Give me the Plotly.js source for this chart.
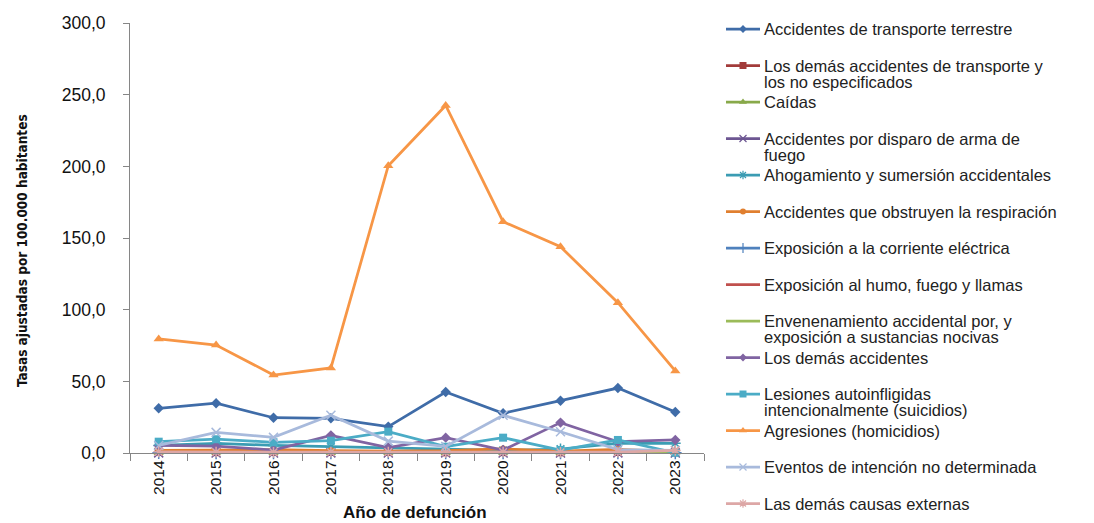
<!DOCTYPE html>
<html>
<head>
<meta charset="utf-8">
<script src="https://cdn.plot.ly/plotly-3.0.1.min.js"></script>
<style>html,body{margin:0;padding:0;background:#fff;}#chart{width:1094px;height:523px;}</style>
</head>
<body>
<div id="chart"></div>
<script>
// ---- data ----
var years = ['2014','2015','2016','2017','2018','2019','2020','2021','2022','2023'];

var seriesNames = [
  'Accidentes de transporte terrestre',
  'Los demás accidentes de transporte y|los no especificados',
  'Caídas',
  'Accidentes por disparo de arma de|fuego',
  'Ahogamiento y sumersión accidentales',
  'Accidentes que obstruyen la respiración',
  'Exposición a la corriente eléctrica',
  'Exposición al humo, fuego y llamas',
  'Envenenamiento accidental por, y|exposición a sustancias nocivas',
  'Los demás accidentes',
  'Lesiones autoinfligidas|intencionalmente (suicidios)',
  'Agresiones (homicidios)',
  'Eventos de intención no determinada',
  'Las demás causas externas'
];

var transporteTerrestre = [31.4, 34.9, 24.8, 24.4, 18.6, 42.7, 27.9, 36.6, 45.5, 28.8];
var otrosTransporte     = [1.2, 0.8, 0.9, 0.9, 1.0, 0.7, 0.8, 0.7, 0.9, 0.6];
var caidas              = [0.6, 0.7, 0.5, 0.4, 0.5, 0.4, 0.6, 0.5, 1.2, 0.3];
var disparo             = [0.3, 0.2, 0.2, 0.3, 0.2, 0.3, 0.2, 0.2, 0.3, 0.2];
var ahogamiento         = [5.5, 7.0, 5.5, 4.5, 3.5, 3.0, 2.0, 3.0, 7.0, 7.0];
var obstruyen           = [2.0, 2.5, 2.5, 1.8, 1.5, 1.8, 3.0, 1.5, 2.8, 1.2];
var corriente           = [0.4, 0.3, 0.2, 0.3, 0.2, 0.3, 0.2, 0.3, 0.2, 0.3];
var humo                = [0.5, 0.4, 0.3, 0.3, 0.4, 0.3, 0.3, 0.4, 0.3, 0.3];
var envenenamiento      = [0.6, 0.5, 0.5, 0.4, 0.5, 0.6, 0.5, 0.4, 0.5, 0.5];
var demasAccidentes     = [5.5, 5.0, 2.3, 12.5, 4.0, 10.9, 2.3, 21.4, 8.1, 9.3];
var suicidios           = [8.1, 9.8, 7.7, 8.8, 15.1, 4.6, 10.9, 2.3, 9.3, 0.4];
var agresiones          = [79.7, 75.5, 54.6, 59.5, 200.5, 242.5, 161.5, 144.0, 105.0, 57.4];
var eventos             = [5.5, 14.6, 11.1, 26.5, 8.5, 4.8, 26.5, 15.0, 2.6, 2.0];
var demasCausas         = [1.0, 0.8, 0.7, 0.8, 0.8, 0.7, 0.8, 0.7, 0.8, 2.0];

var seriesValues = [transporteTerrestre, otrosTransporte, caidas, disparo, ahogamiento, obstruyen,
  corriente, humo, envenenamiento, demasAccidentes, suicidios, agresiones, eventos, demasCausas];

var yTickVals = [0, 50, 100, 150, 200, 250, 300];

// ---- styles ----
var colors = ['#3F6CA8','#A23B3A','#88A94A','#6D5692','#3B9CB3','#E07F2F',
  '#4F81BD','#C0504D','#9BBB59','#8064A2','#4BACC6','#F79646','#A8BADC','#DDA7A6'];
var symbols = ['diamond','square','triangle-up','x-thin-open','asterisk-open','circle',
  'cross-thin-open','none','none','diamond','square','triangle-up','x-thin-open','asterisk-open'];
var msizes = [8, 8, 9, 9, 9, 7, 9, 0, 0, 8, 8, 9, 9, 9];
var lsizes = [6, 7, 7, 7, 7, 6, 7, 0, 0, 6, 7, 7, 7, 7];

var FONT = 'Liberation Sans, Arial, sans-serif';
var W = 1094, H = 523, ML = 130, MR = 10, MT = 23, MB = 5;
var plotW = W - ML - MR, plotH = H - MT - MB;
var mainRight = 704, zeroPx = 453.3;
var xDomEnd = (mainRight - ML) / plotW;
var yDomStart = (H - MB - zeroPx) / plotH;

var traces = [];
seriesNames.forEach(function(n, i){
  var isOpen = symbols[i].indexOf('open') >= 0;
  traces.push({
    type: 'scatter', mode: symbols[i] === 'none' ? 'lines' : 'lines+markers',
    x: years, y: seriesValues[i], name: n.replace('|',' '),
    xaxis: 'x', yaxis: 'y', cliponaxis: false, showlegend: false,
    line: {color: colors[i], width: 2.75},
    marker: {symbol: symbols[i], size: msizes[i], color: colors[i],
      line: {color: colors[i], width: isOpen ? 1.5 : 0}}
  });
});

// ---- legend built on an auxiliary axis pair (pixel-like units) ----
var legendTop = 29, legendStep = 36.5, lineX0 = 726, lineX1 = 760, textX = 762, lineGap = 16;
var annotations = [];
seriesNames.forEach(function(n, i){
  var yc = legendTop + i * legendStep;
  var isOpen = symbols[i].indexOf('open') >= 0;
  traces.push({
    type: 'scatter', mode: 'lines', x: [lineX0, lineX1], y: [yc, yc],
    xaxis: 'x2', yaxis: 'y2', showlegend: false, hoverinfo: 'skip', cliponaxis: false,
    line: {color: colors[i], width: 2.75}
  });
  if (symbols[i] !== 'none') {
    traces.push({
      type: 'scatter', mode: 'markers', x: [(lineX0 + lineX1) / 2], y: [yc],
      xaxis: 'x2', yaxis: 'y2', showlegend: false, hoverinfo: 'skip', cliponaxis: false,
      marker: {symbol: symbols[i], size: lsizes[i], color: colors[i],
        line: {color: colors[i], width: isOpen ? 1.2 : 0}}
    });
  }
  n.split('|').forEach(function(part, k){
    annotations.push({
      xref: 'x2', yref: 'y2', x: textX, y: yc + k * lineGap, text: part,
      showarrow: false, xanchor: 'left', yanchor: 'middle',
      font: {family: FONT, size: 16.5, color: '#222'}
    });
  });
});

annotations.push({
  xref: 'paper', yref: 'paper', x: (22 - ML) / plotW, y: (H - MB - 251) / plotH,
  text: '<b>Tasas ajustadas por 100.000 habitantes</b>', textangle: -90, showarrow: false,
  xanchor: 'center', yanchor: 'middle',
  font: {family: 'Liberation Sans Narrow, DejaVu Sans Condensed, Arial Narrow, sans-serif', size: 13.5, color: '#111'}
});
annotations.push({
  xref: 'paper', yref: 'paper', x: (415 - ML) / plotW, y: (H - MB - 512) / plotH,
  text: '<b>Año de defunción</b>', showarrow: false, xanchor: 'center', yanchor: 'middle',
  font: {family: FONT, size: 17, color: '#111'}
});

var layout = {
  width: W, height: H,
  margin: {l: ML, r: MR, t: MT, b: MB, pad: 0},
  paper_bgcolor: '#fff', plot_bgcolor: 'rgba(0,0,0,0)',
  separators: ',.',
  showlegend: false,
  font: {family: FONT, size: 15, color: '#111'},
  xaxis: {
    domain: [0, xDomEnd], anchor: 'y', type: 'category', categoryorder: 'array', categoryarray: years,
    range: [-0.5, years.length - 0.5], tickson: 'boundaries',
    showline: true, linecolor: '#868686', linewidth: 1,
    ticks: 'outside', ticklen: 7, tickcolor: '#868686',
    tickangle: -90, tickfont: {family: FONT, size: 15.5, color: '#111'},
    showgrid: false, zeroline: false, fixedrange: true
  },
  yaxis: {
    domain: [yDomStart, 1], anchor: 'x', range: [0, 300], tickvals: yTickVals,
    tickformat: '.1f', showline: true, linecolor: '#868686', linewidth: 1,
    ticks: 'outside', ticklen: 6, tickcolor: '#868686', ticklabelstandoff: 14,
    tickfont: {family: FONT, size: 17.5, color: '#111'},
    showgrid: false, zeroline: false, fixedrange: true
  },
  xaxis2: {domain: [xDomEnd, 1], anchor: 'y2', range: [mainRight, W - MR], visible: false, fixedrange: true},
  yaxis2: {domain: [0, 1], anchor: 'x2', range: [H - MB, MT], visible: false, fixedrange: true},
  annotations: annotations
};

Plotly.newPlot('chart', traces, layout, {displayModeBar: false, staticPlot: true});
</script>
</body>
</html>
